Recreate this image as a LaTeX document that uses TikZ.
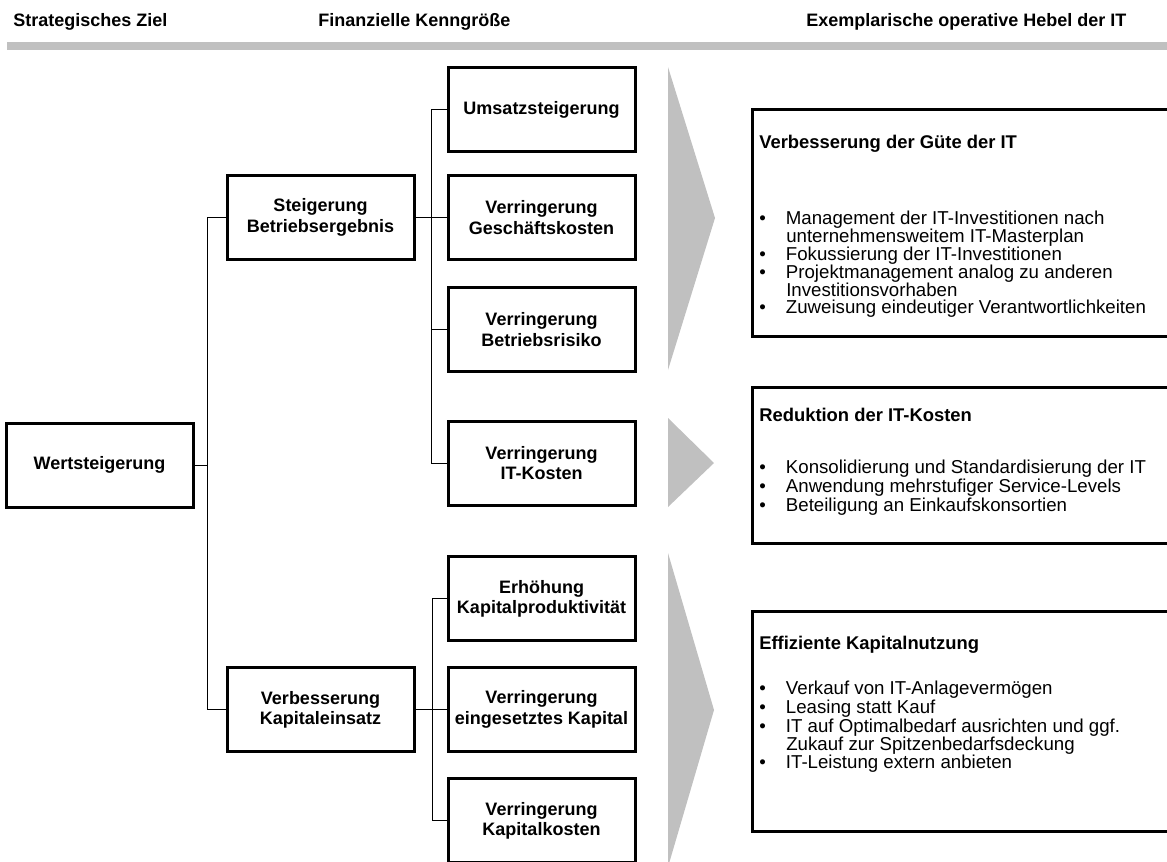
\documentclass[tikz,border=0pt]{standalone}
\usepackage{fontspec}
\setmainfont{Liberation Sans}
\definecolor{bargray}{HTML}{C0C0C0}
\tikzset{
 kbox/.style={draw, line width=2.25pt, minimum width=140.25pt, minimum height=63pt, align=center, inner sep=0pt, font=\bfseries\fontsize{13.5}{15.2}\selectfont},
 conn/.style={line width=0.75pt},
 hbox/.style={draw, line width=2.25pt, anchor=north west, inner sep=0pt, minimum width=321.75pt},
 htitle/.style={anchor=base west, inner sep=0pt, font=\bfseries\fontsize{13.8}{15}\selectfont},
 hline/.style={anchor=base west, inner sep=0pt, font=\fontsize{14}{15}\selectfont},
 hdr/.style={anchor=base west, inner sep=0pt, font=\bfseries\fontsize{13.5}{15}\selectfont},
 chevron/.style={fill=bargray, draw=none}
}
\newcommand{\bul}{\makebox[20pt][l]{\textbullet}}
\begin{document}
\begin{tikzpicture}[x=0.75pt,y=-0.75pt]
\useasboundingbox (0,0) rectangle (1167,861);
\clip (0,0) rectangle (1167,861);
% headers
\node[hdr] (hd1) at (13,26) {Strategisches Ziel};
\node[hdr] (hd2) at (318,26) {Finanzielle Kenngröße};
\node[hdr] (hd3) at (806,26) {Exemplarische operative Hebel der IT};
\fill[bargray] (7,42) rectangle (1167,50);
% chevrons
\fill[chevron] (668,67) -- (715,218) -- (668,370) -- cycle;
\fill[chevron] (668,418) -- (714,463) -- (668,507) -- cycle;
\fill[chevron] (668,553) -- (714,710) -- (668,867) -- cycle;
% boxes
\node[kbox] (W) at (99.5,465) {Wertsteigerung};
\node[kbox] (SB) at (320.5,217.5) {Steigerung\\Betriebsergebnis};
\node[kbox] (VK) at (320.5,709.5) {Verbesserung\\Kapitaleinsatz};
\node[kbox] (U) at (541.5,109.5) {Umsatzsteigerung};
\node[kbox] (G) at (541.5,217.5) {Verringerung\\Geschäftskosten};
\node[kbox] (BR) at (541.5,329.5) {Verringerung\\Betriebsrisiko};
\node[kbox] (IK) at (541.5,463) {Verringerung\\IT-Kosten};
\node[kbox] (EK) at (541.5,598.5) {Erhöhung\\Kapitalproduktivität};
\node[kbox] (EG) at (541.5,709.5) {Verringerung\\eingesetztes Kapital};
\node[kbox] (KK) at (541.5,820.5) {Verringerung\\Kapitalkosten};
% junctions
\coordinate (j1) at (207,0);
\coordinate (j2) at (431,0);
\coordinate (j3) at (432,0);
\draw[conn] (W.east) -- (W.east -| j1);
\draw[conn] (SB.west) -- (SB.west -| j1) -- (VK.west -| j1) -- (VK.west);
\draw[conn] (SB.east) -- (G.west);
\draw[conn] (U.west) -- (U.west -| j2) -- (IK.west -| j2) -- (IK.west);
\draw[conn] (BR.west) -- (BR.west -| j2);
\draw[conn] (VK.east) -- (EG.west);
\draw[conn] (EK.west) -- (EK.west -| j3) -- (KK.west -| j3) -- (KK.west);
% Hebel boxes
\node[hbox, minimum height=170.25pt] (H1) at (751,108) {};
\node[hbox, minimum height=117pt] (H2) at (751,386) {};
\node[hbox, minimum height=165pt] (H3) at (751,610) {};
% box 1
\node[htitle] (t1) at (759,148.5) {Verbesserung der Güte der IT};
\node[hline] (a1) at (759,224.5) {\bul Management der IT-Investitionen nach};
\node[hline] (a2) at (786,242.5) {unternehmensweitem IT-Masterplan};
\node[hline] (a3) at (759,260.5) {\bul Fokussierung der IT-Investitionen};
\node[hline] (a4) at (759,278.5) {\bul Projektmanagement analog zu anderen};
\node[hline] (a5) at (786,296.5) {Investitionsvorhaben};
\node[hline] (a6) at (759,313.5) {\bul Zuweisung eindeutiger Verantwortlichkeiten};
% box 2
\node[htitle] (t2) at (759,421.5) {Reduktion der IT-Kosten};
\node[hline] (b1) at (759,473.5) {\bul Konsolidierung und Standardisierung der IT};
\node[hline] (b2) at (759,492.5) {\bul Anwendung mehrstufiger Service-Levels};
\node[hline] (b3) at (759,511.5) {\bul Beteiligung an Einkaufskonsortien};
% box 3
\node[htitle] (t3) at (759,649.5) {Effiziente Kapitalnutzung};
\node[hline] (c1) at (759,694.5) {\bul Verkauf von IT-Anlagevermögen};
\node[hline] (c2) at (759,713.5) {\bul Leasing statt Kauf};
\node[hline] (c3) at (759,732.5) {\bul IT auf Optimalbedarf ausrichten und ggf.};
\node[hline] (c4) at (786,750.5) {Zukauf zur Spitzenbedarfsdeckung};
\node[hline] (c5) at (759,768.5) {\bul IT-Leistung extern anbieten};
\end{tikzpicture}
\end{document}
